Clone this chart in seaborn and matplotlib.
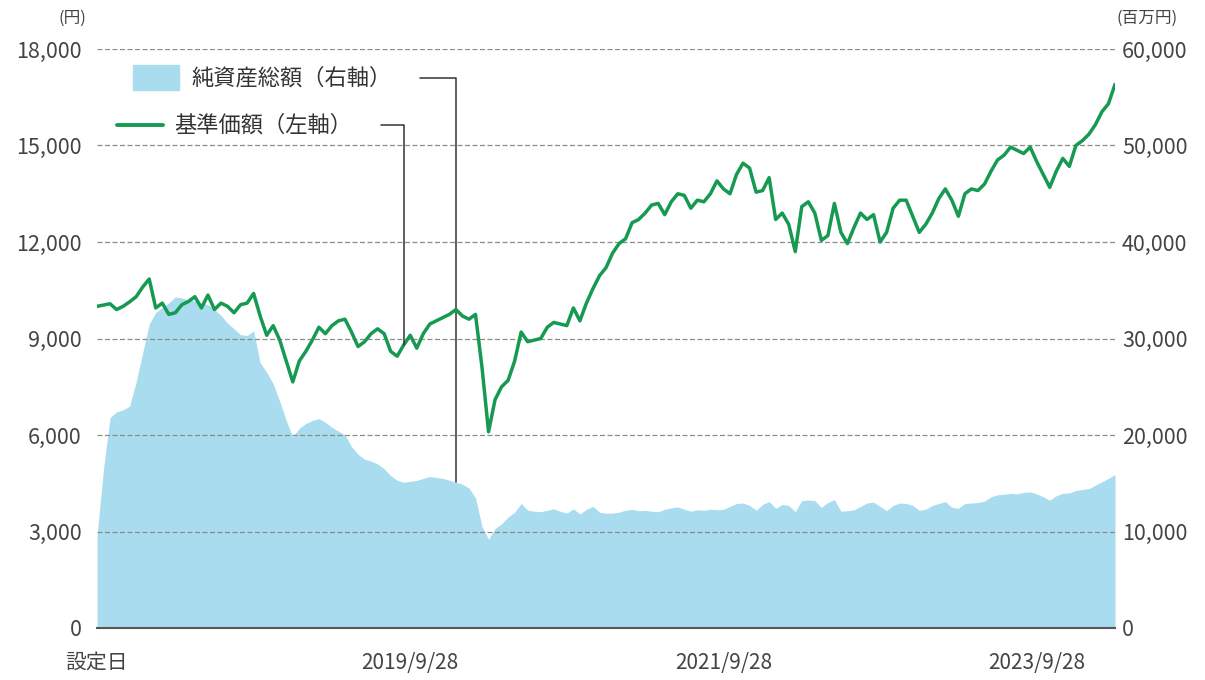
import pandas as pd
import matplotlib
matplotlib.use('Agg')
import matplotlib.pyplot as plt
import seaborn as sns
from matplotlib.patches import Rectangle
from matplotlib.lines import Line2D

sns.set_style('white')
plt.rcParams['font.family'] = ['Noto Sans CJK JP', 'DejaVu Sans']

# period covered (about two points per month)
start_date = '2017-09-28'
end_date = '2024-03-28'

# 基準価額 (円)
nav = [10000, 10040, 10080, 9900, 10000, 10140, 10300, 10600, 10850, 9950,
       10100, 9750, 9800, 10050, 10150, 10300, 9950, 10350, 9900, 10100,
       10000, 9800, 10050, 10100, 10400, 9700, 9100, 9400, 8950, 8300,
       7650, 8300, 8600, 8950, 9350, 9150, 9400, 9550, 9600, 9200,
       8750, 8900, 9150, 9300, 9150, 8600, 8450, 8800, 9100, 8700,
       9150, 9450, 9550, 9650, 9750, 9900, 9700, 9600, 9750, 8100,
       6100, 7100, 7500, 7700, 8300, 9200, 8900, 8950, 9000, 9350,
       9500, 9450, 9400, 9950, 9550, 10100, 10550, 10950, 11200, 11650,
       11950, 12100, 12600, 12700, 12900, 13150, 13200, 12850, 13250, 13500,
       13450, 13050, 13300, 13250, 13500, 13900, 13650, 13500, 14100, 14450,
       14300, 13550, 13600, 14000, 12700, 12900, 12550, 11700, 13100, 13250,
       12900, 12050, 12200, 13200, 12300, 11950, 12450, 12900, 12700, 12850,
       12000, 12300, 13050, 13300, 13300, 12800, 12300, 12550, 12900, 13350,
       13650, 13300, 12800, 13500, 13650, 13600, 13800, 14200, 14550, 14700,
       14950, 14850, 14750, 14950, 14500, 14100, 13700, 14200, 14600, 14350,
       15000, 15150, 15350, 15650, 16050, 16300, 16900]

# 純資産総額 (百万円)
net_assets = [9500, 16500, 21800, 22400, 22600, 23000, 25500, 28500, 31500, 32700,
              33200, 33700, 34300, 34200, 34000, 33900, 33700, 33500, 33000, 32400,
              31600, 31000, 30400, 30300, 30800, 27500, 26500, 25300, 23500, 21500,
              19800, 20700, 21200, 21500, 21700, 21300, 20800, 20400, 20000, 18800,
              18000, 17500, 17300, 17000, 16500, 15800, 15300, 15100, 15200, 15300,
              15500, 15700, 15600, 15500, 15300, 15100, 14900, 14500, 13500, 10500,
              9200, 10300, 10800, 11500, 12000, 12900, 12200, 12100, 12050, 12200,
              12350, 12100, 11900, 12350, 11800, 12300, 12600, 12000, 11900, 11900,
              12000, 12200, 12300, 12150, 12200, 12100, 12050, 12300, 12450, 12550,
              12300, 12100, 12250, 12200, 12300, 12250, 12300, 12600, 12900, 12950,
              12700, 12200, 12800, 13100, 12400, 12800, 12700, 12050, 13200, 13250,
              13200, 12500, 13000, 13300, 12100, 12150, 12250, 12600, 12950, 13050,
              12600, 12150, 12700, 12950, 12900, 12700, 12200, 12300, 12700, 12900,
              13100, 12500, 12400, 12900, 12950, 13000, 13150, 13600, 13800, 13850,
              13950, 13900, 14050, 14100, 13900, 13600, 13250, 13700, 13950, 14000,
              14250, 14350, 14450, 14800, 15150, 15500, 15900]

tick_dates = ['2017-09-28', '2019-09-28', '2021-09-28', '2023-09-28']
tick_labels = ['設定日', '2019/9/28', '2021/9/28', '2023/9/28']
left_ticks = [0, 3000, 6000, 9000, 12000, 15000, 18000]
right_ticks = [0, 10000, 20000, 30000, 40000, 50000, 60000]

GREEN = '#169a52'
BLUE = '#a8dcee'
TXT = '#444444'

dates = pd.date_range(start_date, end_date, periods=len(nav))
df = pd.DataFrame({'date': dates, 'nav': nav, 'assets': net_assets})

W, H = 1205, 680
fig = plt.figure(figsize=(W / 100, H / 100), dpi=100)
ax = fig.add_axes([97 / W, 1 - 628 / H, (1115 - 97) / W, (628 - 49) / H])

# area (right axis scale) on the base axes so the dashed grid sits on top of it
ax.fill_between(df['date'], 0, df['assets'], color=BLUE, lw=0, zorder=1)
ax.set_xlim(dates[0], dates[-1])
ax.set_ylim(0, 60000)
ax.set_yticks(right_ticks)
ax.set_yticklabels([f'{v:,}' for v in right_ticks])
ax.grid(axis='y', color='#8c8c8c', linestyle=(0, (4, 2)), linewidth=0.9)
ax.grid(axis='x', visible=False)
ax.set_axisbelow(False)

# line (left axis scale)
ax2 = ax.twinx()
sns.lineplot(data=df, x='date', y='nav', ax=ax2, color=GREEN, linewidth=2.5)
ax2.set_ylim(0, 18000)
ax2.set_yticks(left_ticks)
ax2.set_yticklabels([f'{v:,}' for v in left_ticks])
ax2.set_xlabel('')
ax2.set_ylabel('')

ax.yaxis.tick_right()
ax2.yaxis.tick_left()

for a in (ax, ax2):
    for s in ('left', 'right', 'top'):
        a.spines[s].set_visible(False)
ax2.spines['bottom'].set_visible(False)
ax.spines['bottom'].set_color('#555555')
ax.spines['bottom'].set_linewidth(1.5)

ax.set_xticks(pd.to_datetime(tick_dates))
ax.set_xticklabels(tick_labels)
ax.tick_params(axis='x', direction='in', length=5, width=1.2, color='#555555',
               pad=17, labelsize=15, labelcolor=TXT)
ax.tick_params(axis='y', length=0, pad=5, labelsize=15.5, labelcolor=TXT)
ax2.tick_params(axis='y', length=0, pad=11, labelsize=15.5, labelcolor=TXT)

# units
fig.text(86 / W, 1 - 18 / H, '(円)', ha='right', va='center', fontsize=12, color=TXT)
fig.text(1117 / W, 1 - 18 / H, '(百万円)', ha='left', va='center', fontsize=12, color=TXT)

# legend with leader lines
fig.patches.append(Rectangle((133 / W, 1 - 90 / H), 46 / W, 25 / H,
                             transform=fig.transFigure, color=BLUE))
fig.text(191 / W, 1 - 78 / H, '純資産総額（右軸）', ha='left', va='center',
         fontsize=16, color='#333333')
fig.add_artist(Line2D([117 / W, 163 / W], [1 - 125 / H] * 2,
                      transform=fig.transFigure, color=GREEN, lw=2.8))
fig.text(174 / W, 1 - 125 / H, '基準価額（左軸）', ha='left', va='center',
         fontsize=16, color='#333333')

leader = dict(arrowstyle='-', color='#333333', lw=1.1, shrinkA=0, shrinkB=0,
              connectionstyle='angle,angleA=0,angleB=90,rad=0')
ax.annotate('', xy=(dates[55], net_assets[55]), xycoords='data',
            xytext=(420 / W, 1 - 78 / H), textcoords='figure fraction',
            arrowprops=leader)
ax2.annotate('', xy=(dates[47], nav[47]), xycoords='data',
             xytext=(381 / W, 1 - 125 / H), textcoords='figure fraction',
             arrowprops=leader)

fig.savefig('out.png', dpi=100)
